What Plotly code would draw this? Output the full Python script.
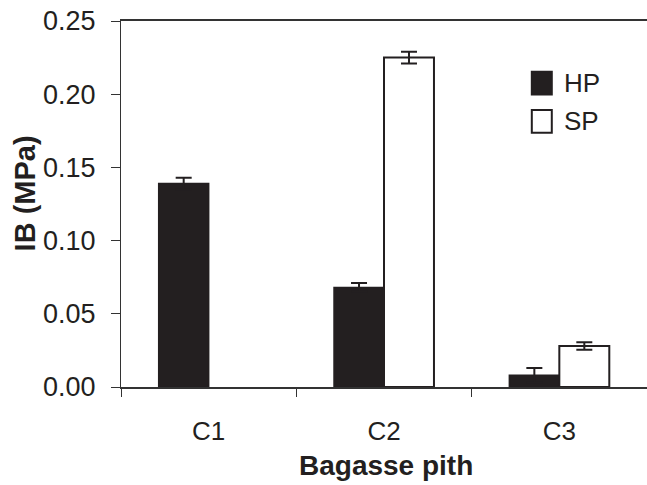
import plotly.graph_objects as go

# Internal bond strength of bagasse pith boards
categories = ["C1", "C2", "C3"]
hp_values = [0.139, 0.068, 0.008]
hp_errors = [0.004, 0.003, 0.005]
sp_values = [None, 0.225, 0.028]
sp_errors = [None, 0.004, 0.0025]
y_ticks = [0.00, 0.05, 0.10, 0.15, 0.20, 0.25]

FONT = "Liberation Sans, Arial, sans-serif"
INK = "#231f20"

fig = go.Figure()
fig.add_trace(go.Bar(
    name="HP", x=categories, y=hp_values,
    marker=dict(color=INK, line=dict(color=INK, width=1.5)),
    error_y=dict(type="data", array=hp_errors, color=INK, thickness=2, width=8),
))
fig.add_trace(go.Bar(
    name="SP", x=categories, y=sp_values,
    marker=dict(color="white", line=dict(color=INK, width=2)),
    error_y=dict(type="data", array=sp_errors, color=INK, thickness=2, width=8),
))

# Legend keys drawn as boxes with labels
legend_items = [("HP", INK, 0.830), ("SP", "white", 0.726)]
for label, fill, yc in legend_items:
    fig.add_shape(type="rect", xref="paper", yref="paper",
                  x0=0.781, x1=0.819, y0=yc - 0.031, y1=yc + 0.031,
                  fillcolor=fill, line=dict(color=INK, width=2))
    fig.add_annotation(x=0.838, y=yc, xref="paper", yref="paper",
                       text=label, showarrow=False, xanchor="left", yanchor="middle",
                       font=dict(family=FONT, size=26, color=INK))

fig.add_annotation(x=0.504, y=-0.214, xref="paper", yref="paper",
                   text="<b>Bagasse pith</b>", showarrow=False,
                   xanchor="center", yanchor="middle",
                   font=dict(family=FONT, size=28, color=INK))
fig.add_annotation(x=-0.1825, y=0.529, xref="paper", yref="paper",
                   text="<b>IB (MPa)</b>", showarrow=False, textangle=-90,
                   xanchor="center", yanchor="middle",
                   font=dict(family=FONT, size=29, color=INK))

fig.update_layout(
    width=647, height=485,
    margin=dict(l=121, r=0, t=21, b=98),
    paper_bgcolor="white", plot_bgcolor="white",
    barmode="group", bargap=0.43, bargroupgap=0,
    showlegend=False,
    font=dict(family=FONT, size=26, color=INK),
)
fig.update_xaxes(
    range=[-0.5, 2.5], showgrid=False, showline=True, linecolor="#333", linewidth=1.5,
    mirror=True, ticks="outside", ticklen=8, tickcolor="#333", tickwidth=1,
    tickson="boundaries", ticklabelstandoff=20,
    tickfont=dict(family=FONT, size=26, color=INK),
)
fig.update_yaxes(
    range=[0, 0.25], tickvals=y_ticks, ticktext=[f"{v:.2f}" for v in y_ticks],
    showgrid=False, zeroline=False, showline=True, linecolor="#333", linewidth=1.2,
    ticks="outside", ticklen=9, tickcolor="#333", tickwidth=1, ticklabelstandoff=10,
    tickfont=dict(family=FONT, size=27, color=INK),
)

fig.write_html("out.html")
